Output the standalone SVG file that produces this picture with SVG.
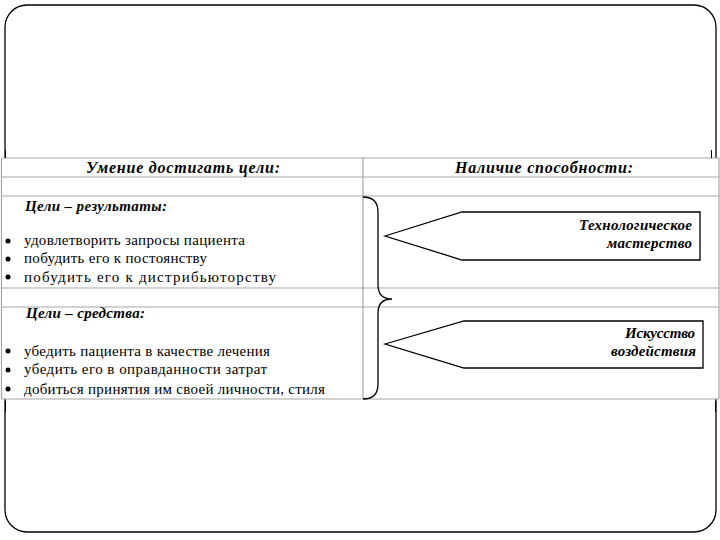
<svg xmlns="http://www.w3.org/2000/svg" width="720" height="540" viewBox="0 0 720 540">
<style>
.frame{fill:none;stroke:#000;stroke-width:1.3}
.grid{stroke:#a6a6a6;stroke-width:1.2;fill:none}
.tick{stroke:#000;stroke-width:1}
.hdr{font-family:"Liberation Serif",serif;font-weight:bold;font-style:italic;font-size:16px;fill:#000}
.sub{font-family:"Liberation Serif",serif;font-weight:bold;font-style:italic;font-size:15px;fill:#000}
.item{font-family:"Liberation Serif",serif;font-size:15px;fill:#000}
.lbl{font-family:"Liberation Serif",serif;font-weight:bold;font-style:italic;font-size:15px;fill:#000;text-anchor:end}
.arrow{fill:#fff;stroke:#000;stroke-width:1.3}
.brace{fill:none;stroke:#000;stroke-width:1.3}
</style>
<rect width="720" height="540" fill="#fff"/>
<rect class="frame" x="5" y="5" width="711" height="527" rx="22" ry="22"/>
<g id="table">
  <rect x="1.5" y="158" width="717.5" height="241" fill="#fff"/>
  <path class="grid" d="M1.5 158H719M1.5 177H719M1.5 196H719M1.5 288H719M1.5 307H719M1.5 399H719M1.5 158V399M363 158V399M719 158V399"/>
  <path class="tick" d="M5.5 150V158M711.5 150V158M5.5 401V412M715.5 401V412"/>
</g>
<g id="header-left"><text class="hdr" x="183" y="173" text-anchor="middle" textLength="194">Умение достигать цели:</text></g>
<g id="header-right"><text class="hdr" x="544" y="173" text-anchor="middle" textLength="178">Наличие способности:</text></g>
<g id="goals-results">
  <text class="sub" x="25" y="211" textLength="142">Цели – результаты:</text>
  <circle cx="8" cy="241" r="2.5"/>
  <text class="item" x="24" y="245" textLength="221">удовлетворить запросы пациента</text>
  <circle cx="8" cy="259" r="2.5"/>
  <text class="item" x="24" y="263" textLength="183">побудить его к постоянству</text>
  <circle cx="8" cy="277" r="2.5"/>
  <text class="item" x="24" y="282" textLength="252">побудить его к дистрибьюторству</text>
</g>
<g id="goals-means">
  <text class="sub" x="26" y="318" textLength="119">Цели – средства:</text>
  <circle cx="8" cy="351" r="2.5"/>
  <text class="item" x="24" y="356" textLength="246">убедить пациента в качестве лечения</text>
  <circle cx="8" cy="370" r="2.5"/>
  <text class="item" x="24" y="374" textLength="243">убедить его в оправданности затрат</text>
  <circle cx="8" cy="389" r="2.5"/>
  <text class="item" x="24" y="394" textLength="301">добиться принятия им своей личности, стиля</text>
</g>
<g id="connectors">
  <path class="brace" d="M363 197Q378 197 378 212V285Q378 299 392 299Q378 299 378 313V384Q378 399 363 399"/>
</g>
<g id="tech-mastery">
  <polygon class="arrow" points="385,236 462,212 700,212 700,260 462,260"/>
  <text class="lbl" x="692" y="230" textLength="113">Технологическое</text>
  <text class="lbl" x="692" y="248" textLength="85">мастерство</text>
</g>
<g id="art-influence">
  <polygon class="arrow" points="385,344 464,321 703,321 703,368 464,368"/>
  <text class="lbl" x="695" y="338" textLength="70">Искусство</text>
  <text class="lbl" x="696" y="356" textLength="85">воздействия</text>
</g>
</svg>
